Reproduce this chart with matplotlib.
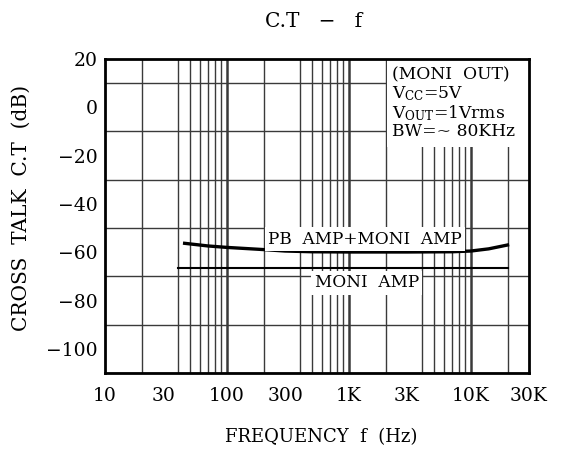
import numpy as np
import matplotlib.pyplot as plt
from matplotlib.patches import Rectangle
from matplotlib.ticker import FixedLocator, NullFormatter

# curve data
pb_freq = [45, 70, 100, 200, 300, 500, 1000, 3000, 7000, 10000, 14000, 20000]
pb_db = [-56.3, -57.4, -58.0, -58.9, -59.5, -59.8, -59.9, -59.9, -59.8, -59.5, -58.6, -57.0]

moni_freq = [40, 20000]
moni_db = [-66.7, -66.7]

xtick_vals = [10, 30, 100, 300, 1000, 3000, 10000, 30000]
xtick_labels = ['10', '30', '100', '300', '1K', '3K', '10K', '30K']
ytick_vals = [-100, -80, -60, -40, -20, 0, 20]

plt.rcParams['font.family'] = ['DejaVu Serif']
plt.rcParams['mathtext.fontset'] = 'dejavuserif'

fig = plt.figure(figsize=(5.62, 4.55), dpi=100)
ax = fig.add_axes([0.1868, 0.1802, 0.7545, 0.6901])

ax.set_xscale('log')
ax.set_xlim(10, 30000)
ax.set_ylim(-110, 20)

# grid: every 10 dB, log minor lines
minor_x = [m * 10**d for d in range(1, 5) for m in range(2, 10)]
ax.xaxis.set_major_locator(FixedLocator(xtick_vals))
ax.xaxis.set_minor_locator(FixedLocator(minor_x))
ax.xaxis.set_minor_formatter(NullFormatter())
ax.set_xticklabels(xtick_labels)
ax.set_yticks(ytick_vals)
ax.set_yticklabels([str(v).replace('-', '\u2212') for v in ytick_vals])
ax.yaxis.set_minor_locator(FixedLocator(np.arange(-110, 21, 10)))

ax.set_axisbelow(True)
ax.grid(True, which='minor', axis='both', color='#3a3a3a', linewidth=1.0)
for d in [100, 1000, 10000]:
    ax.axvline(d, color='#3a3a3a', linewidth=1.8, zorder=0.6)

ax.tick_params(which='both', length=0)
ax.tick_params(axis='x', pad=10, labelsize=13.5)
ax.tick_params(axis='y', pad=5, labelsize=13.5)
for s in ax.spines.values():
    s.set_linewidth(2.0)
    s.set_color('black')

# white patch behind the conditions note
ax.add_patch(Rectangle((2050, -16.5), 30000 - 2050, 36.5, facecolor='white',
                       edgecolor='none', zorder=1))
note = ['(MONI  OUT)', r'V$_{\rm CC}$=5V', r'V$_{\rm OUT}$=1Vrms', r'BW=~ 80KHz']
for i, t in enumerate(note):
    ax.text(0.677, 0.949 - i * 0.06, t, transform=ax.transAxes, fontsize=12.3,
            ha='left', va='center', zorder=3)

ax.plot(pb_freq, pb_db, color='black', linewidth=2.4, zorder=4)
ax.plot(moni_freq, moni_db, color='black', linewidth=1.5, zorder=4)

ax.text(1350, -54.6, 'PB  AMP+MONI  AMP', fontsize=12.2, ha='center', va='center',
        zorder=5, bbox=dict(facecolor='white', edgecolor='none', pad=2.5))
ax.text(1400, -72.6, 'MONI  AMP', fontsize=12.2, ha='center', va='center',
        zorder=5, bbox=dict(facecolor='white', edgecolor='none', pad=2.5))

ax.set_ylabel('CROSS  TALK  C.T  (dB)', fontsize=14.5)
ax.yaxis.set_label_coords(-0.175, 0.525)
fig.text(0.558, 0.953, 'C.T   \u2212   f', fontsize=14.5, ha='center', va='center')
fig.text(0.572, 0.04, 'FREQUENCY  f  (Hz)', fontsize=13, ha='center', va='center')

fig.savefig('out.png', dpi=100)
